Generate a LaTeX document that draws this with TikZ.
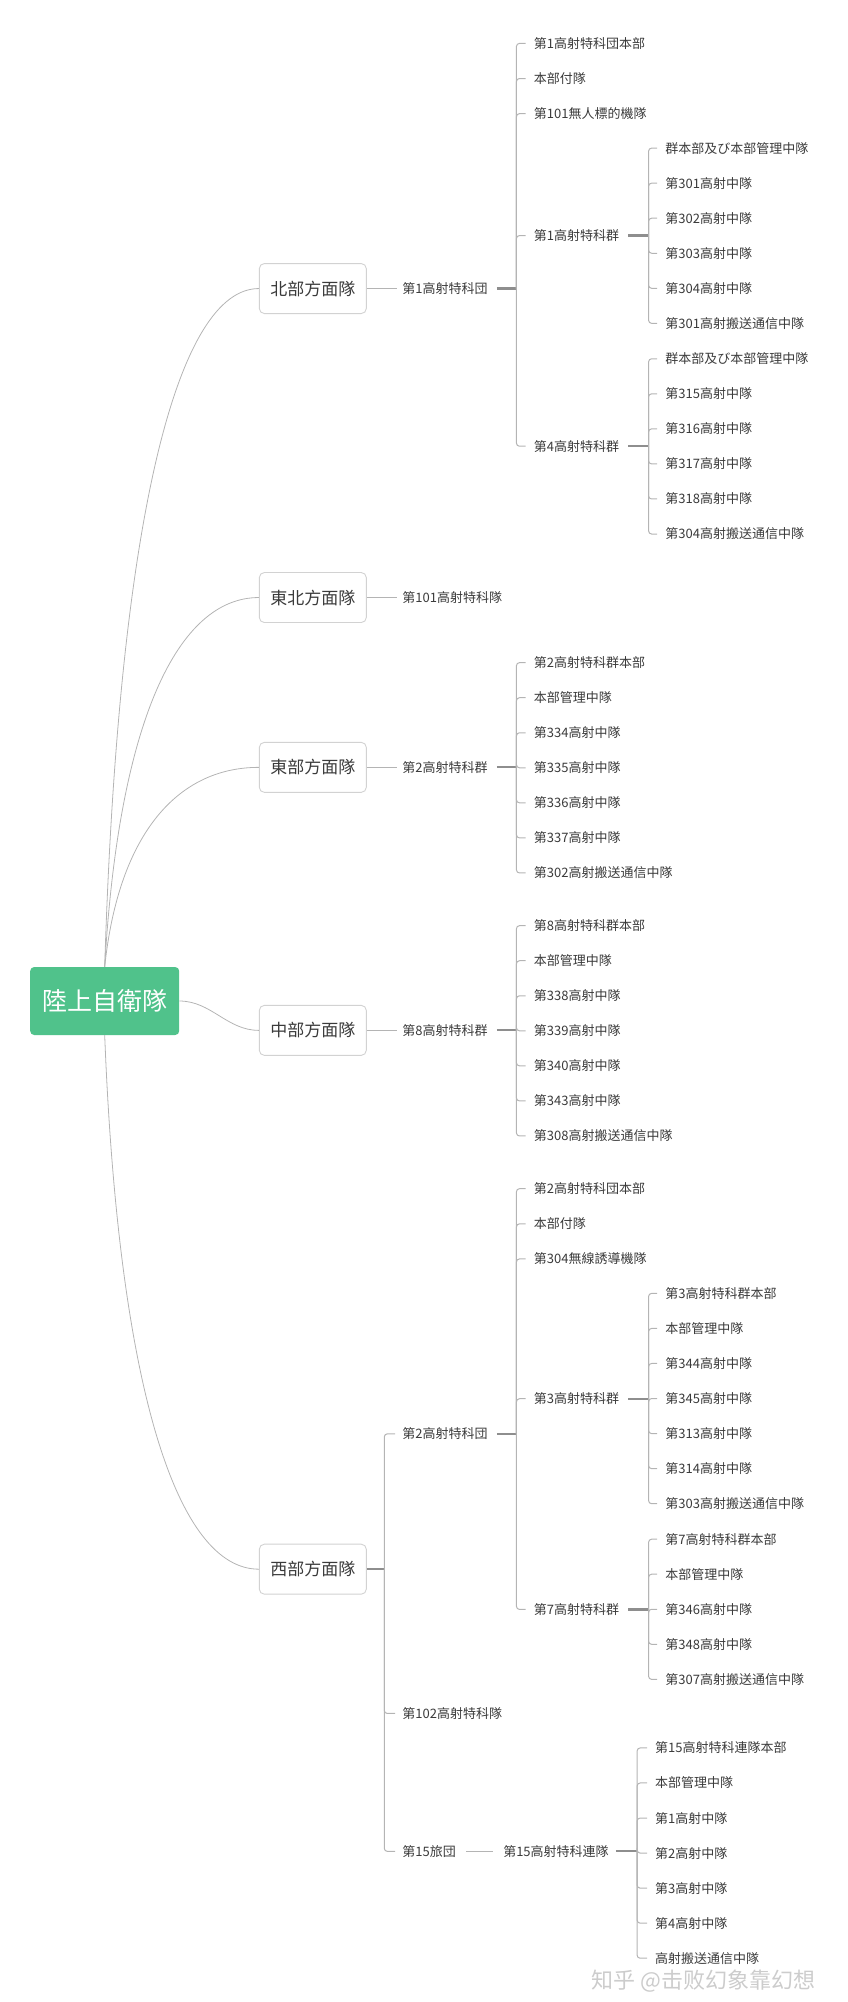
\documentclass[tikz,border=0pt]{standalone}
\usepackage{fontspec}
\newfontfamily\cjk{Noto Sans CJK SC}
\usetikzlibrary{positioning}
\definecolor{mint}{HTML}{50C28B}
\definecolor{lineGray}{HTML}{B4B4B4}
\definecolor{trunkGray}{HTML}{8E8E8E}
\definecolor{boxGray}{HTML}{D2D2D2}
\definecolor{ink}{HTML}{3A3A3A}

\begin{document}
\begin{tikzpicture}[x=1.2771pt,y=-1.2771pt,every node/.style={inner sep=0pt,text=ink,font=\cjk},
root/.style={fill=mint,rounded corners=4pt,minimum width=149pt,minimum height=68pt,text=white,font=\cjk\fontsize{25}{30}\selectfont},
area/.style={draw=boxGray,fill=white,rounded corners=5pt,line width=0.9pt,minimum width=107pt,minimum height=50pt,font=\cjk\fontsize{17}{20}\selectfont},
unit/.style={anchor=west,font=\cjk\fontsize{13}{16}\selectfont},
link/.style={draw=lineGray,line width=1pt,rounded corners=3pt},
trunk/.style={draw=trunkGray,line width=2.2pt},
curve/.style={draw=lineGray,line width=0.8pt}]
\useasboundingbox (0,0) rectangle (664,1568);

\node[root] (gsdf) at (82,784) {陸上自衛隊};
\node[area] (hokubu) at (245,226) {北部方面隊};
\node[area] (tohoku) at (245,468) {東北方面隊};
\node[area] (tobu) at (245,601) {東部方面隊};
\node[area] (chubu) at (245,807) {中部方面隊};
\node[area] (seibu) at (245,1229) {西部方面隊};

\draw[curve] (gsdf.north) .. controls +(11,-356) and +(-63,0) .. (hokubu.west);
\draw[curve] (gsdf.north) .. controls +(11,-194) and +(-63,0) .. (tohoku.west);
\draw[curve] (gsdf.north) .. controls +(11,-105) and +(-63,0) .. (tobu.west);
\draw[curve] (gsdf.east) .. controls +(25,0) and +(-25,0) .. (chubu.west);
\draw[curve] (gsdf.south) .. controls +(11,281) and +(-63,0) .. (seibu.west);

\node[unit] (n1) at (315,226) {第1高射特科団};
\node[unit] (ne1) at (315,468) {第101高射特科隊};
\node[unit] (e1) at (315,601) {第2高射特科群};
\node[unit] (m1) at (315,807) {第8高射特科群};
\node[unit] (w1) at (315,1123) {第2高射特科団};
\node[unit] (w2) at (315,1342) {第102高射特科隊};
\node[unit] (w3) at (315,1450) {第15旅団};
\node[unit] (w3r) at (394,1450) {第15高射特科連隊};

\draw[link] (hokubu.east) -- ([xshift=-5pt]n1.west);
\draw[link] (tohoku.east) -- ([xshift=-5pt]ne1.west);
\draw[link] (tobu.east) -- ([xshift=-5pt]e1.west);
\draw[link] (chubu.east) -- ([xshift=-5pt]m1.west);
\draw[link] ([xshift=10pt]w3.east) -- ([xshift=-10pt]w3r.west);

\coordinate (seibuj) at (301,1229);
\draw[trunk] (seibu.east) -- (seibuj);
\foreach \n in {w1,w2,w3}
  \draw[link] (seibuj) |- ([xshift=-7pt]\n.west);

\coordinate (n1j) at (404.5,226);
\draw[trunk] ([xshift=9pt]n1.east) -- (n1j);
\node[unit] (n1-1) at (418,34) {第1高射特科団本部};
\node[unit] (n1-2) at (418,61.5) {本部付隊};
\node[unit] (n1-3) at (418,89) {第101無人標的機隊};
\node[unit] (n1-4) at (418,184.5) {第1高射特科群};
\node[unit] (n1-5) at (418,349.5) {第4高射特科群};
\foreach \i in {1,...,5}
  \draw[link] (n1j) |- ([xshift=-8pt]n1-\i.west);

\coordinate (n1aj) at (508,184.5);
\draw[trunk] ([xshift=9pt]n1-4.east) -- (n1aj);
\foreach \t [count=\i] in {群本部及び本部管理中隊,第301高射中隊,第302高射中隊,第303高射中隊,第304高射中隊,第301高射搬送通信中隊}{
  \node[unit] (n1a-\i) at (521,{116+27.45*(\i-1)}) {\t};
  \draw[link] (n1aj) |- ([xshift=-8pt]n1a-\i.west);
}

\coordinate (n1bj) at (508,349.5);
\draw[trunk] ([xshift=9pt]n1-5.east) -- (n1bj);
\foreach \t [count=\i] in {群本部及び本部管理中隊,第315高射中隊,第316高射中隊,第317高射中隊,第318高射中隊,第304高射搬送通信中隊}{
  \node[unit] (n1b-\i) at (521,{281+27.45*(\i-1)}) {\t};
  \draw[link] (n1bj) |- ([xshift=-8pt]n1b-\i.west);
}

\coordinate (e1j) at (404.5,601);
\draw[trunk] ([xshift=9pt]e1.east) -- (e1j);
\foreach \t [count=\i] in {第2高射特科群本部,本部管理中隊,第334高射中隊,第335高射中隊,第336高射中隊,第337高射中隊,第302高射搬送通信中隊}{
  \node[unit] (e1-\i) at (418,{519+27.45*(\i-1)}) {\t};
  \draw[link] (e1j) |- ([xshift=-8pt]e1-\i.west);
}

\coordinate (m1j) at (404.5,807);
\draw[trunk] ([xshift=9pt]m1.east) -- (m1j);
\foreach \t [count=\i] in {第8高射特科群本部,本部管理中隊,第338高射中隊,第339高射中隊,第340高射中隊,第343高射中隊,第308高射搬送通信中隊}{
  \node[unit] (m1-\i) at (418,{725+27.45*(\i-1)}) {\t};
  \draw[link] (m1j) |- ([xshift=-8pt]m1-\i.west);
}

\coordinate (w1j) at (404.5,1123);
\draw[trunk] ([xshift=9pt]w1.east) -- (w1j);
\node[unit] (w1-1) at (418,931) {第2高射特科団本部};
\node[unit] (w1-2) at (418,958.5) {本部付隊};
\node[unit] (w1-3) at (418,986) {第304無線誘導機隊};
\node[unit] (w1-4) at (418,1095.5) {第3高射特科群};
\node[unit] (w1-5) at (418,1260.5) {第7高射特科群};
\foreach \i in {1,...,5}
  \draw[link] (w1j) |- ([xshift=-8pt]w1-\i.west);

\coordinate (w1aj) at (508,1095.5);
\draw[trunk] ([xshift=9pt]w1-4.east) -- (w1aj);
\foreach \t [count=\i] in {第3高射特科群本部,本部管理中隊,第344高射中隊,第345高射中隊,第313高射中隊,第314高射中隊,第303高射搬送通信中隊}{
  \node[unit] (w1a-\i) at (521,{1013+27.45*(\i-1)}) {\t};
  \draw[link] (w1aj) |- ([xshift=-8pt]w1a-\i.west);
}

\coordinate (w1bj) at (508,1260.5);
\draw[trunk] ([xshift=9pt]w1-5.east) -- (w1bj);
\foreach \t [count=\i] in {第7高射特科群本部,本部管理中隊,第346高射中隊,第348高射中隊,第307高射搬送通信中隊}{
  \node[unit] (w1b-\i) at (521,{1205.5+27.45*(\i-1)}) {\t};
  \draw[link] (w1bj) |- ([xshift=-8pt]w1b-\i.west);
}

\coordinate (w3rj) at (499,1450);
\draw[trunk] ([xshift=7pt]w3r.east) -- (w3rj);
\foreach \t [count=\i] in {第15高射特科連隊本部,本部管理中隊,第1高射中隊,第2高射中隊,第3高射中隊,第4高射中隊,高射搬送通信中隊}{
  \node[unit] (w3r-\i) at (513,{1369+27.45*(\i-1)}) {\t};
  \draw[link] (w3rj) |- ([xshift=-8pt]w3r-\i.west);
}

\node[text=gray!40,font=\cjk\fontsize{22}{26}\selectfont] (mark) at (551,1552) {知乎 @击败幻象靠幻想};
\end{tikzpicture}
\end{document}
